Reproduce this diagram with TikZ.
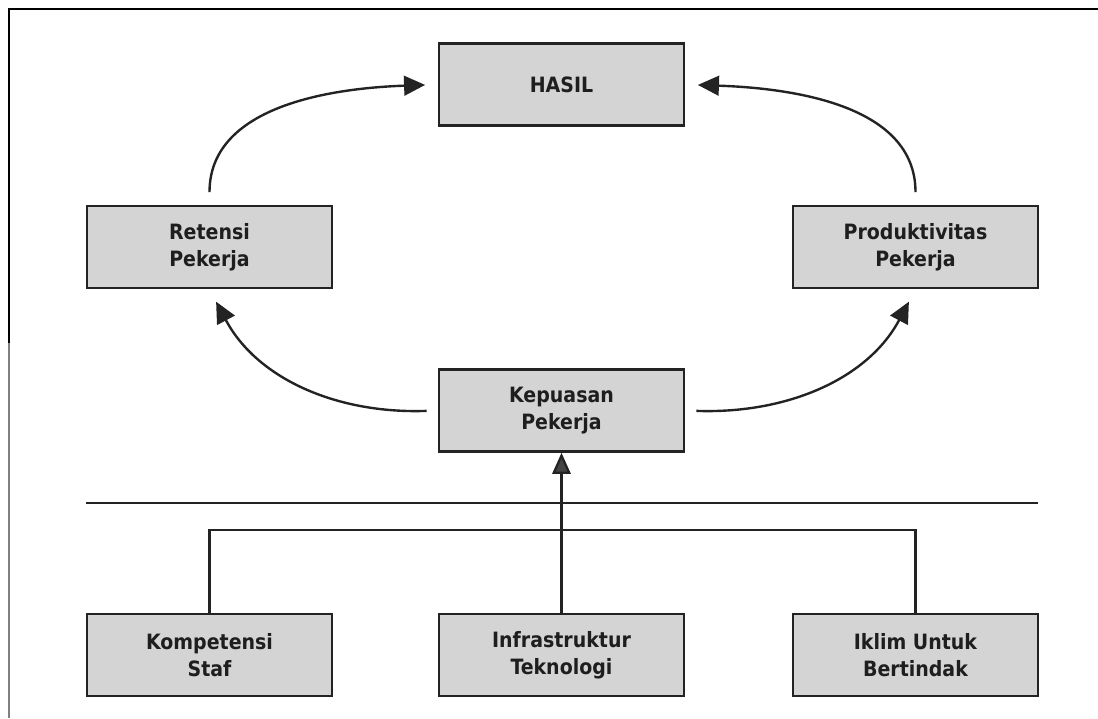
\documentclass[tikz,border=0pt]{standalone}
\usepackage{fontspec}
\setmainfont{DejaVu Sans}
\newfontfamily\kondensed{DejaVu Sans Condensed}
\usetikzlibrary{arrows.meta}
\definecolor{abu}{RGB}{212,212,212}
\definecolor{garis}{RGB}{35,35,35}
\definecolor{teks}{RGB}{30,30,30}
\tikzset{
	kotak/.style={draw=garis,line width=1.8pt,fill=abu,minimum width=6.12cm,minimum height=2.05cm,
		inner sep=0pt,align=center,text=teks,font=\kondensed\fontsize{15}{19}\selectfont\bfseries},
	panah/.style={draw=garis,line width=1.7pt,-{Triangle[length=15pt,width=14pt]}},
	garisan/.style={draw=garis,line width=1.6pt}
}
\begin{document}
\begin{tikzpicture}[x=0.025cm,y=-0.025cm]
		\useasboundingbox (0,0) rectangle (1098,718);
		% bingkai
		\coordinate (F1) at (9,9);
		\coordinate (F2) at (1098,9);
		\coordinate (F3) at (9,343);
		\coordinate (F4) at (9,718);
		\draw[line width=1.8pt] (F2) -- (F1) -- (F3);
		\draw[line width=1.8pt,gray] (F3) -- (F4);
		% kotak
		\node[kotak] (H) at (561.5,84.5) {HASIL};
		\node[kotak] (R) at (209.5,247) {Retensi\\Pekerja};
		\node[kotak] (P) at (915.5,247) {Produktivitas\\Pekerja};
		\node[kotak] (K) at (561.5,410.5) {Kepuasan\\Pekerja};
		\node[kotak] (KS) at (209.5,655) {Kompetensi\\Staf};
		\node[kotak] (IT) at (561.5,655) {Infrastruktur\\Teknologi};
		\node[kotak] (IU) at (915.5,655) {Iklim Untuk\\Bertindak};
		% panah lengkung
		\draw[panah,shorten <=9pt,shorten >=9pt] (R.north) to[out=90,in=182] (H.west);
		\draw[panah,shorten <=9pt,shorten >=9pt] (P.north) to[out=90,in=-2] (H.east);
		\draw[panah,shorten <=8pt,shorten >=10pt] (K.west) to[out=182,in=-62] (R.south);
		\draw[panah,shorten <=8pt,shorten >=10pt] (K.east) to[out=-2,in=242] (P.south);
		% garis bawah
		\coordinate (L1) at (86,503);
		\coordinate (L2) at (1038,503);
		\draw[garisan] (L1) -- (L2);
		\coordinate (J1) at (209.5,530);
		\coordinate (J2) at (915.5,530);
		\draw[garisan] (KS.north) -- (J1) -- (J2) -- (IU.north);
		\draw[garisan,-{Triangle[length=15pt,width=13pt,fill=garis!85]}] (IT.north) -- (K.south);
\end{tikzpicture}
\end{document}
